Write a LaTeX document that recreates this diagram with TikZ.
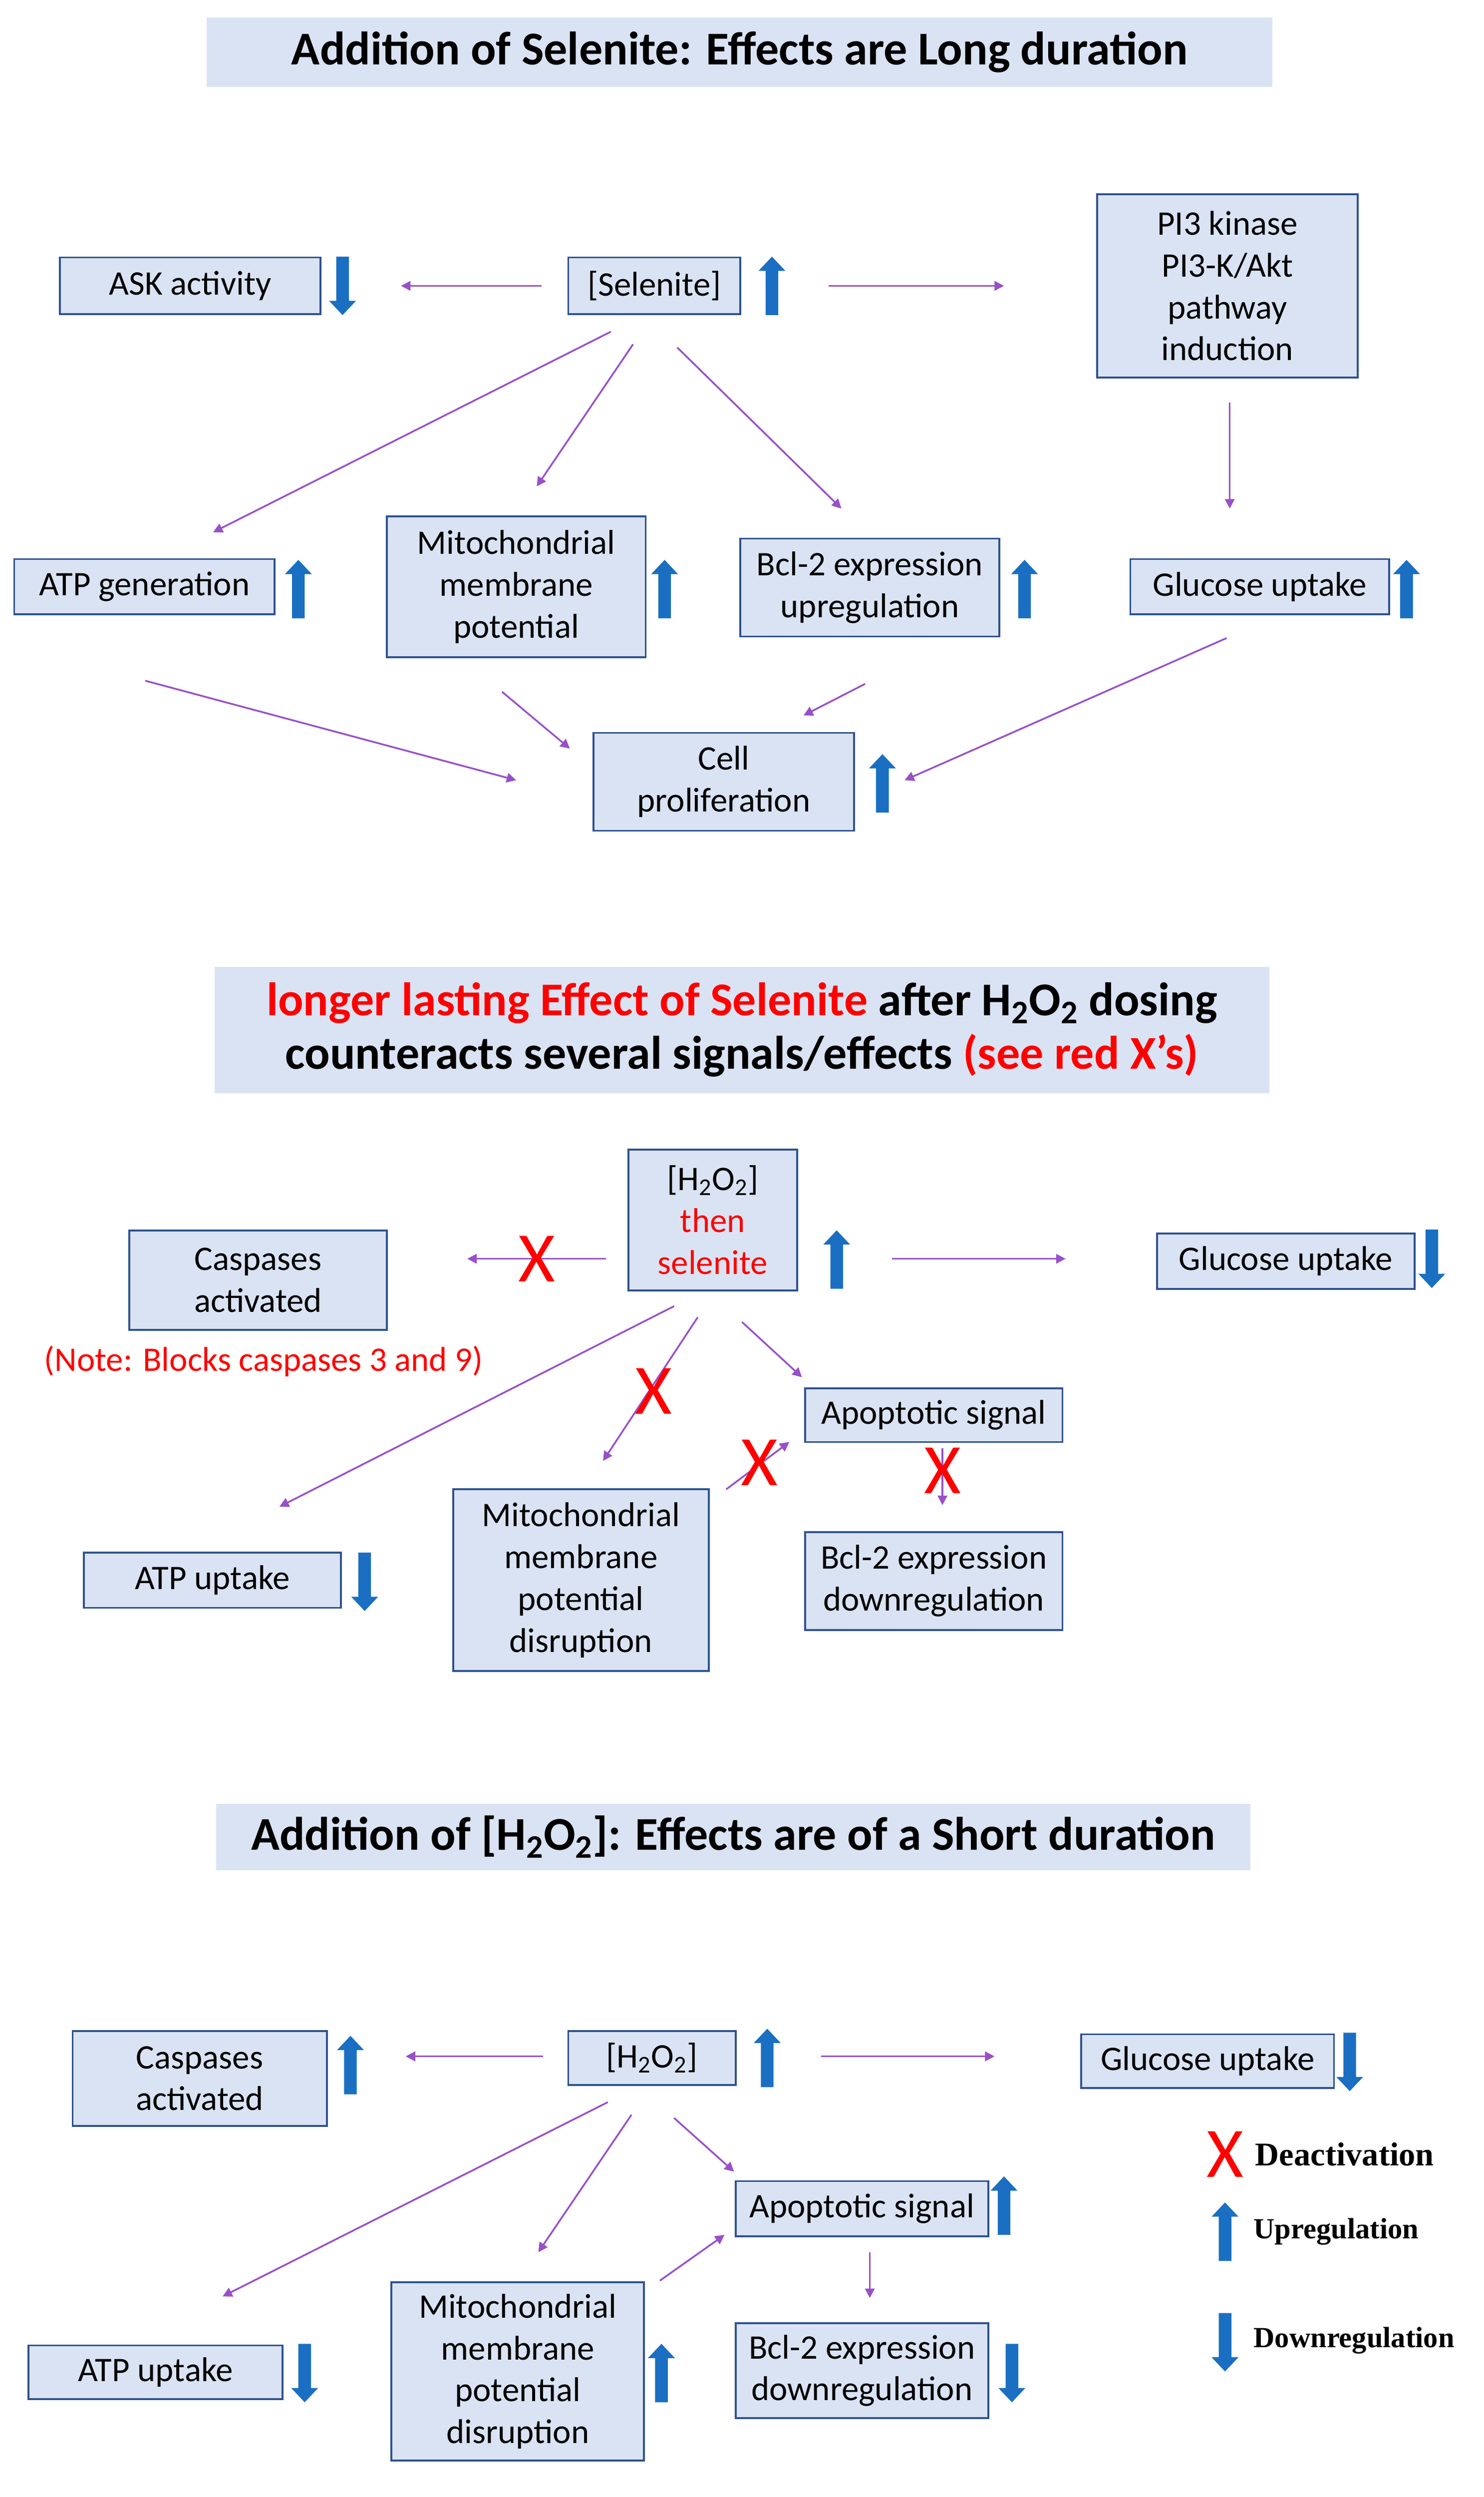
\documentclass[tikz,border=0pt]{standalone}
\usepackage{fontspec}
\setmainfont{Carlito}
\newfontfamily\legfont{Liberation Serif}
\usetikzlibrary{arrows.meta}
\definecolor{boxfill}{HTML}{DAE3F3}
\definecolor{boxline}{HTML}{2F528F}
\definecolor{connc}{HTML}{9850C8}
\definecolor{bluearr}{HTML}{1A6FC2}
\definecolor{xred}{HTML}{FF0000}
\begin{document}
\begin{tikzpicture}[x=1pt,y=-1pt,
 box/.style={draw=boxline, line width=1.2pt, fill=boxfill, inner sep=0pt, align=center, font=\fontsize{21.8}{26.5}\selectfont},
 titlebox/.style={fill=boxfill, inner sep=0pt, align=center, font=\fontsize{29.8}{34}\selectfont\bfseries},
 conn/.style={draw=connc, line width=1.1pt, -{Triangle[length=6pt,width=6pt]}},
 xmark/.style={text=xred, inner sep=0pt, font=\fontsize{45}{45}\selectfont},
 legtext/.style={anchor=west, inner sep=0pt, font=\legfont\bfseries\fontsize{18.5}{20}\selectfont},
 uparr/.pic={\fill[bluearr] (-4,18.5) -- (-4,-9.5) -- (-8.5,-9.5) -- (0,-18.5) -- (8.5,-9.5) -- (4,-9.5) -- (4,18.5) -- cycle;},
 downarr/.pic={\fill[bluearr] (-4,-18.5) -- (-4,9.5) -- (-8.5,9.5) -- (0,18.5) -- (8.5,9.5) -- (4,9.5) -- (4,-18.5) -- cycle;},
]
\useasboundingbox[fill=white] (0,0) rectangle (940,1581);

% ---------------- Section 1 ----------------
\node[titlebox, minimum width=675pt, minimum height=44pt] (t1) at (468.5,33) {Addition of Selenite: Effects are Long duration};
\node[box, minimum width=165pt, minimum height=36pt] (ask) at (120.5,181) {ASK activity};
\node[box, minimum width=109pt, minimum height=36pt] (sel) at (414.5,181) {[Selenite]};
\node[box, minimum width=165pt, minimum height=116pt] (pi3) at (777.5,181) {PI3 kinase\\PI3-K/Akt\\pathway\\induction};
\node[box, minimum width=164pt, minimum height=35pt] (glua) at (798,371.5) {Glucose uptake};
\node[box, minimum width=165pt, minimum height=35pt] (atpa) at (91.5,371.5) {ATP generation};
\node[box, minimum width=164pt, minimum height=89pt] (mitoa) at (327,371.5) {Mitochondrial\\membrane\\potential};
\node[box, minimum width=164pt, minimum height=62pt] (bcla) at (551,372) {Bcl-2 expression\\upregulation};
\node[box, minimum width=165pt, minimum height=62pt] (cell) at (458.5,495) {Cell\\proliferation};

\pic at (217,181) {downarr};
\pic at (489,181) {uparr};
\pic at (189,373) {uparr};
\pic at (421,373) {uparr};
\pic at (649,373) {uparr};
\pic at (891,373) {uparr};
\pic at (559,496) {uparr};

\coordinate (a1s) at (343,181); \coordinate (a1e) at (254,181);
\coordinate (a2s) at (525,181); \coordinate (a2e) at (636,181);
\coordinate (a3s) at (779,255); \coordinate (a3e) at (779,322);
\coordinate (a4s) at (387,210); \coordinate (a4e) at (135,337);
\coordinate (a5s) at (401,218); \coordinate (a5e) at (340,308);
\coordinate (a6s) at (429,220); \coordinate (a6e) at (533,322);
\coordinate (a7s) at (92,431);  \coordinate (a7e) at (327,494);
\coordinate (a8s) at (318,438); \coordinate (a8e) at (361,474);
\coordinate (a9s) at (548,433); \coordinate (a9e) at (509,453);
\coordinate (a10s) at (777,404); \coordinate (a10e) at (573,494);
\foreach \i in {1,...,10} {\draw[conn] (a\i s) -- (a\i e);}

% ---------------- Section 2 ----------------
\node[titlebox, minimum width=668pt, minimum height=80pt] (t2) at (470,652) {\textcolor{xred}{longer lasting Effect of Selenite} after H\textsubscript{2}O\textsubscript{2} dosing\\counteracts several signals/effects \textcolor{xred}{(see red X’s)}};
\node[box, minimum width=107pt, minimum height=89pt] (hs) at (451.5,772.5) {[H\textsubscript{2}O\textsubscript{2}]\\\textcolor{xred}{then}\\\textcolor{xred}{selenite}};
\node[box, minimum width=163pt, minimum height=63pt] (caspb) at (163.5,810.5) {Caspases\\activated};
\node[text=xred, inner sep=0pt, font=\fontsize{21.8}{26}\selectfont] (note) at (167,862) {(Note: Blocks caspases 3 and 9)};
\node[box, minimum width=163pt, minimum height=35pt] (glub) at (814.5,798.5) {Glucose uptake};
\node[box, minimum width=163pt, minimum height=34pt] (apob) at (591.5,896) {Apoptotic signal};
\node[box, minimum width=163pt, minimum height=35pt] (atpb) at (134.5,1000.5) {ATP uptake};
\node[box, minimum width=162pt, minimum height=115pt] (mitob) at (368,1000.5) {Mitochondrial\\membrane\\potential\\disruption};
\node[box, minimum width=163pt, minimum height=62pt] (bclb) at (591.5,1001) {Bcl-2 expression\\downregulation};

\pic at (530,797.5) {uparr};
\pic at (907,797) {downarr};
\pic at (231,1001.5) {downarr};

\coordinate (b1s) at (384,797); \coordinate (b1e) at (296,797);
\coordinate (b2s) at (565,797); \coordinate (b2e) at (675,797);
\coordinate (b3s) at (427,827); \coordinate (b3e) at (177,954);
\coordinate (b4s) at (442,834); \coordinate (b4e) at (382,925);
\coordinate (b5s) at (470,837); \coordinate (b5e) at (508,872);
\coordinate (b6s) at (460,943); \coordinate (b6e) at (500,913);
\coordinate (b7s) at (597,917); \coordinate (b7e) at (597,953);
\foreach \i in {1,...,7} {\draw[conn] (b\i s) -- (b\i e);}

\node[xmark] (x1) at (340,797) {X};
\node[xmark] (x2) at (414,881) {X};
\node[xmark] (x3) at (481,926) {X};
\node[xmark] (x4) at (597,931) {X};

% ---------------- Section 3 ----------------
\node[titlebox, minimum width=655pt, minimum height=42pt] (t3) at (464.5,1163) {Addition of [H\textsubscript{2}O\textsubscript{2}]: Effects are of a Short duration};
\node[box, minimum width=161pt, minimum height=60pt] (caspc) at (126.5,1316) {Caspases\\activated};
\node[box, minimum width=106pt, minimum height=34pt] (hc) at (413,1303) {[H\textsubscript{2}O\textsubscript{2}]};
\node[box, minimum width=160pt, minimum height=34pt] (gluc) at (765,1305) {Glucose uptake};
\node[box, minimum width=160pt, minimum height=35pt] (apoc) at (546,1398.5) {Apoptotic signal};
\node[box, minimum width=161pt, minimum height=34pt] (atpc) at (98.5,1502) {ATP uptake};
\node[box, minimum width=160pt, minimum height=113pt] (mitoc) at (328,1501.5) {Mitochondrial\\membrane\\potential\\disruption};
\node[box, minimum width=160pt, minimum height=60pt] (bclc) at (546,1501) {Bcl-2 expression\\downregulation};

\pic at (222,1307.5) {uparr};
\pic at (486,1303) {uparr};
\pic at (855,1305.5) {downarr};
\pic at (636,1396.5) {uparr};
\pic at (193,1502.5) {downarr};
\pic at (419,1502.5) {uparr};
\pic at (641,1502.5) {downarr};

\coordinate (c1s) at (344,1302); \coordinate (c1e) at (257,1302);
\coordinate (c2s) at (520,1302); \coordinate (c2e) at (630,1302);
\coordinate (c3s) at (385,1331); \coordinate (c3e) at (141,1454);
\coordinate (c4s) at (400,1339); \coordinate (c4e) at (341,1426);
\coordinate (c5s) at (427,1341); \coordinate (c5e) at (465,1375);
\coordinate (c6s) at (418,1444); \coordinate (c6e) at (459,1415);
\coordinate (c7s) at (551,1426); \coordinate (c7e) at (551,1455);
\foreach \i in {1,...,7} {\draw[conn] (c\i s) -- (c\i e);}

% legend
\node[xmark] (lx) at (776,1364) {X};
\node[legtext, font=\legfont\bfseries\fontsize{21}{22}\selectfont] (ldeact) at (795,1364) {Deactivation};
\pic at (776,1413) {uparr};
\node[legtext] (lup) at (794,1413) {Upregulation};
\pic at (776,1483) {downarr};
\node[legtext] (ldown) at (794,1482) {Downregulation};
\end{tikzpicture}
\end{document}
